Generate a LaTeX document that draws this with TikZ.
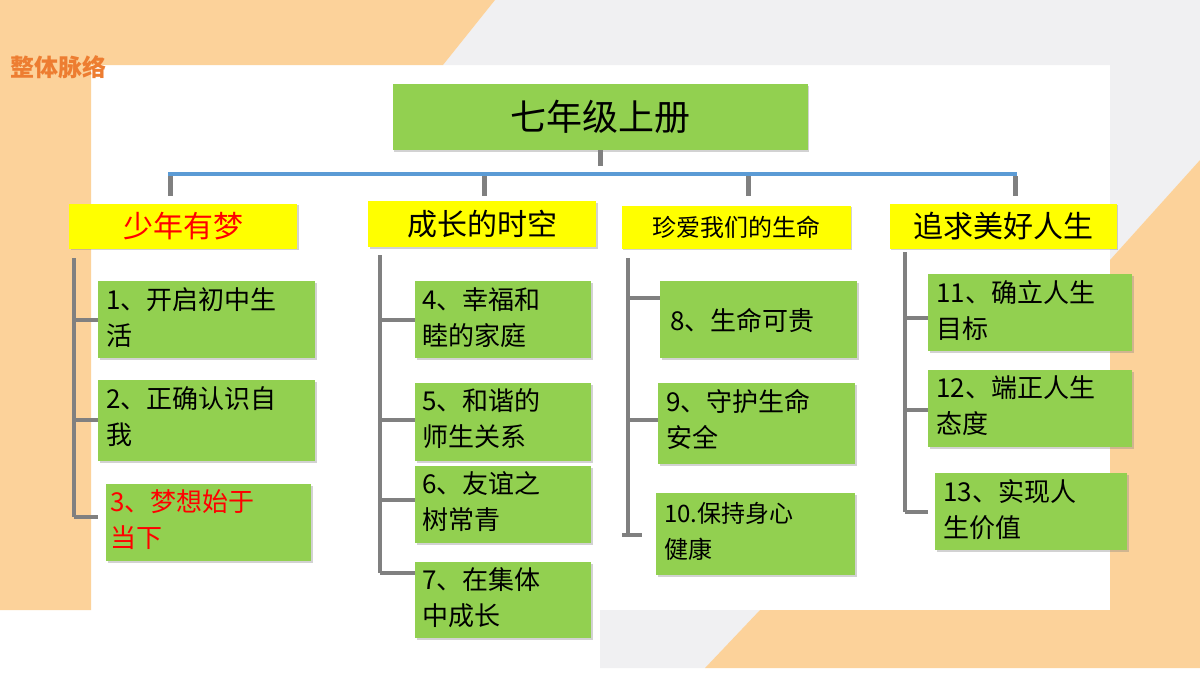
\documentclass[tikz,border=0pt]{standalone}
\usepackage{fontspec}
\setmainfont{Noto Sans CJK SC}
\usetikzlibrary{shadows}
\definecolor{peach}{HTML}{FCD29A}
\definecolor{lgray}{HTML}{F0F0F2}
\definecolor{gbox}{HTML}{92D050}
\definecolor{ybox}{HTML}{FFFF00}
\definecolor{lineblue}{HTML}{5B9BD5}
\definecolor{brk}{HTML}{808080}
\definecolor{orangeT}{HTML}{ED7D31}
\begin{document}
\begin{tikzpicture}[x=1pt,y=-1pt,
  gb/.style={fill=gbox,draw=none,drop shadow={shadow xshift=1.5pt,shadow yshift=-1.5pt,opacity=.35},anchor=north west,inner sep=0pt},
  yb/.style={fill=ybox,draw=none,drop shadow={shadow xshift=1.5pt,shadow yshift=-1.5pt,opacity=.35},inner sep=0pt},
  txt/.style={align=left,anchor=north west,font=\fontsize{26}{36}\selectfont,inner sep=0pt},
  br/.style={brk,line width=4pt},
  stub/.style={brk,line width=5pt}]
\useasboundingbox (0,0) rectangle (1200,675);
\fill[white] (0,0) rectangle (1200,675);
% background
\fill[lgray] (495,0) -- (1200,0) -- (1200,65) -- (443,65) -- cycle;
\fill[peach] (0,0) -- (495,0) -- (443,65) -- (91,65) -- (91,610) -- (0,610) -- cycle;
\fill[lgray] (600,610) -- (760,610) -- (705,668) -- (600,668) -- cycle;
\fill[lgray] (1110,65) -- (1200,65) -- (1200,160) -- (1110,260) -- cycle;
\fill[peach] (760,610) -- (1110,610) -- (1110,260) -- (1200,160) -- (1200,668) -- (705,668) -- cycle;
\node[anchor=west,text=orangeT,font=\fontsize{24}{28}\selectfont\bfseries,inner sep=0pt] (ttl) at (10,67) {整体脉络};
% title
\node[gb,minimum width=415pt,minimum height=66pt,anchor=center,font=\fontsize{36}{40}\selectfont] (top) at (600,117) {七年级上册};
\draw[stub] (600,150) -- (600,166);
\draw[lineblue,line width=3.5pt] (168,174) -- (1017,174);
\foreach \x in {170,484,748,1015} \draw[stub] (\x,176) -- (\x,196);
% categories
\node[yb,minimum width=228pt,minimum height=45pt,text=red,font=\fontsize{30}{34}\selectfont] (c1) at (183,226) {少年有梦};
\node[yb,minimum width=228pt,minimum height=46pt,font=\fontsize{30}{34}\selectfont] (c2) at (482,224) {成长的时空};
\node[yb,minimum width=229pt,minimum height=43pt,font=\fontsize{24}{28}\selectfont] (c3) at (736,227) {珍爱我们的生命};
\node[yb,minimum width=227pt,minimum height=45pt,font=\fontsize{30}{34}\selectfont] (c4) at (1003,226) {追求美好人生};
% brackets
\draw[br] (74,258) -- (74,517) (74,320) -- (98,320) (74,420) -- (98,420) (74,517) -- (98,517);
\draw[br] (380,255) -- (380,573) (380,320) -- (415,320) (380,420) -- (415,420) (380,500) -- (415,500) (380,573) -- (415,573);
\draw[br] (628,258) -- (628,535) (628,298) -- (660,298) (628,420) -- (660,420) (622,535) -- (642,535);
\draw[br] (905,252) -- (905,512) (905,318) -- (928,318) (905,410) -- (928,410) (905,512) -- (928,512);
% col1
\node[gb,minimum width=217pt,minimum height=77pt] (b1) at (98,281) {};
\node[txt] (t1) at (106,287) {1、开启初中生\\活};
\node[gb,minimum width=217pt,minimum height=81pt] (b2) at (98,380) {};
\node[txt] (t2) at (106,386) {2、正确认识自\\我};
\node[gb,minimum width=205pt,minimum height=77pt] (b3) at (106,484) {};
\node[txt,text=red] (t3) at (110,489) {3、梦想始于\\当下};
% col2
\node[gb,minimum width=176pt,minimum height=77pt] (b4) at (415,281) {};
\node[txt] (t4) at (422,287) {4、幸福和\\睦的家庭};
\node[gb,minimum width=176pt,minimum height=78pt] (b5) at (415,383) {};
\node[txt] (t5) at (422,388) {5、和谐的\\师生关系};
\node[gb,minimum width=176pt,minimum height=77pt] (b6) at (415,466) {};
\node[txt] (t6) at (422,471) {6、友谊之\\树常青};
\node[gb,minimum width=176pt,minimum height=76pt] (b7) at (415,562) {};
\node[txt] (t7) at (422,567) {7、在集体\\中成长};
% col3
\node[gb,minimum width=197pt,minimum height=77pt] (b8) at (660,281) {};
\node[txt,anchor=west] (t8) at (670,320) {8、生命可贵};
\node[gb,minimum width=197pt,minimum height=81pt] (b9) at (658,383) {};
\node[txt] (t9) at (666,389) {9、守护生命\\安全};
\node[gb,minimum width=199pt,minimum height=82pt] (b10) at (656,493) {};
\node[txt,font=\fontsize{24}{36}\selectfont] (t10) at (664,502) {10.保持身心\\健康};
% col4
\node[gb,minimum width=204pt,minimum height=77pt] (b11) at (928,274) {};
\node[txt] (t11) at (936,280) {11、确立人生\\目标};
\node[gb,minimum width=204pt,minimum height=77pt] (b12) at (928,370) {};
\node[txt] (t12) at (936,375) {12、端正人生\\态度};
\node[gb,minimum width=192pt,minimum height=77pt] (b13) at (935,473) {};
\node[txt] (t13) at (943,479) {13、实现人\\生价值};
\end{tikzpicture}
\end{document}
